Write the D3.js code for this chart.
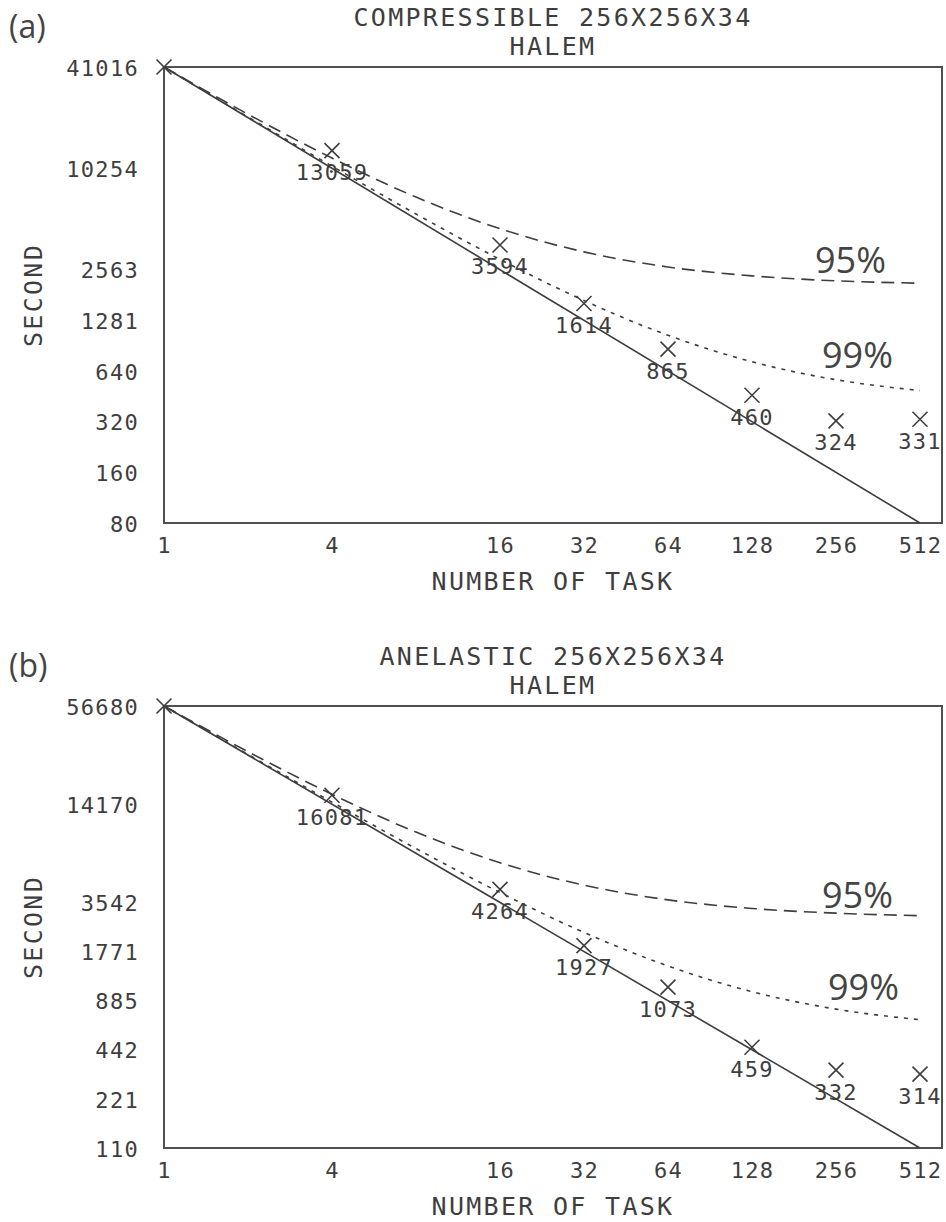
<!DOCTYPE html>
<html>
<head>
<meta charset="utf-8">
<script src="https://cdn.jsdelivr.net/npm/d3@7"></script>
<style>
  body { margin: 0; background: #fff; }
  svg { display: block; }
</style>
</head>
<body>
<svg id="chart"></svg>
<script>

/* data */
var tasks = [1, 4, 16, 32, 64, 128, 256, 512];
var timesA = [41016, 13059, 3594, 1614, 865, 460, 324, 331];
var timesB = [56680, 16081, 4264, 1927, 1073, 459, 332, 314];

// efficiency curves (95% / 99%), sampled at every power of two
var curveTasks = [1, 2, 4, 8, 16, 32, 64, 128, 256, 512];
var eff95A = [41016, 21500, 11800, 6920, 4490, 3270, 2660, 2355, 2200, 2130];
var eff99A = [41016, 20700, 10560, 5490, 2950, 1680, 1045, 727, 569, 490];
var eff95B = [56680, 29750, 16300, 9560, 6200, 4520, 3675, 3255, 3045, 2940];
var eff99B = [56680, 28620, 14600, 7580, 4075, 2320, 1445, 1005, 786, 676];

// ideal speedup line
var idealTasks = [1, 512];
var idealA = [41016, 80.1];
var idealB = [56680, 110.7];

var xTicks = [1, 4, 16, 32, 64, 128, 256, 512];
var yTicksA = [41016, 10254, 2563, 1281, 640, 320, 160, 80];
var yTicksB = [56680, 14170, 3542, 1771, 885, 442, 221, 110];

/* settings */
var width = 946,
    height = 1222,
    left = 164,
    right = 942,
    xMax = 614,          // axis runs a little past 512
    ink = "#3e3e3e",
    mono = "'DejaVu Sans Mono', monospace",
    sans = "'Open Sans', 'Noto Sans', sans-serif";

var svg = d3.select("#chart")
    .attr("width", width)
    .attr("height", height);

svg.append("rect")
    .attr("width", width)
    .attr("height", height)
    .attr("fill", "#fff");

var xScale = d3.scaleLog().base(2)
    .domain([1, xMax])
    .range([left, right]);

function drawPanel(p) {

    var yScale = d3.scaleLog().base(2)
        .domain([p.ideal[1], p.ideal[0]])
        .range([p.bottom, p.top]);

    var g = svg.append("g").attr("class", "panel");

    /* frame */
    g.append("rect")
        .attr("x", xScale(1))
        .attr("y", yScale(p.ideal[0]))
        .attr("width", xScale(xMax) - xScale(1))
        .attr("height", yScale(p.ideal[1]) - yScale(p.ideal[0]))
        .attr("fill", "none")
        .attr("stroke", "#505050")
        .attr("stroke-width", 2);

    /* axes, labels only */
    var xAxisG = g.append("g")
        .attr("transform", "translate(0," + (p.bottom + 22) + ")")
        .call(d3.axisBottom(xScale).tickValues(xTicks).tickSize(0).tickPadding(0)
            .tickFormat(d3.format("d")));
    var yAxisG = g.append("g")
        .attr("transform", "translate(" + left + ",0)")
        .call(d3.axisLeft(yScale).tickValues(p.yTicks).tickSize(0).tickPadding(25)
            .tickFormat(d3.format("d")));

    [xAxisG, yAxisG].forEach(function(a) {
        a.select(".domain").remove();
        a.attr("font-family", mono)
            .attr("font-size", 22)
            .style("color", ink);
        a.selectAll("text")
            .attr("dy", "0.365em")
            .style("letter-spacing", "1.3px");
    });

    var line = d3.line()
        .x(function(d) { return xScale(d[0]); })
        .y(function(d) { return yScale(d[1]); });

    /* ideal line */
    g.append("path")
        .datum(d3.zip(idealTasks, p.ideal))
        .attr("d", line)
        .attr("fill", "none")
        .attr("stroke", ink)
        .attr("stroke-width", 1.6);

    /* 95% and 99% curves */
    var smooth = d3.line()
        .x(function(d) { return xScale(d[0]); })
        .y(function(d) { return yScale(d[1]); })
        .curve(d3.curveMonotoneX);

    g.append("path")
        .datum(d3.zip(curveTasks, p.e95))
        .attr("d", smooth)
        .attr("fill", "none")
        .attr("stroke", ink)
        .attr("stroke-width", 1.6)
        .attr("stroke-dasharray", "13,7");

    g.append("path")
        .datum(d3.zip(curveTasks, p.e99))
        .attr("d", smooth)
        .attr("fill", "none")
        .attr("stroke", ink)
        .attr("stroke-width", 1.6)
        .attr("stroke-dasharray", "4,6");

    /* measured points */
    var pts = d3.zip(tasks, p.times);

    g.selectAll(".mark")
        .data(pts)
        .enter()
        .append("path")
        .attr("class", "mark")
        .attr("transform", function(d) {
            return "translate(" + xScale(d[0]) + "," + yScale(d[1]) + ")";
        })
        .attr("d", "M-7.5,-7.5L7.5,7.5M-7.5,7.5L7.5,-7.5")
        .attr("fill", "none")
        .attr("stroke", ink)
        .attr("stroke-width", 1.6);

    g.selectAll(".ptlabel")
        .data(pts.slice(1))
        .enter()
        .append("text")
        .attr("class", "ptlabel")
        .attr("x", function(d) { return xScale(d[0]); })
        .attr("y", function(d) { return yScale(d[1]) + 29.5; })
        .attr("text-anchor", "middle")
        .attr("font-family", mono)
        .attr("font-size", 22)
        .style("letter-spacing", "1.3px")
        .attr("fill", ink)
        .text(function(d) { return d[1]; });

    /* titles */
    var cx = (xScale(1) + xScale(xMax)) / 2;
    [[p.title, p.top - 41], ["HALEM", p.top - 12]].forEach(function(t) {
        g.append("text")
            .attr("x", cx)
            .attr("y", t[1])
            .attr("text-anchor", "middle")
            .attr("font-family", mono)
            .attr("font-size", 25)
            .style("letter-spacing", "2.3px")
            .attr("fill", ink)
            .text(t[0]);
    });

    g.append("text")
        .attr("x", cx)
        .attr("y", p.bottom + 67)
        .attr("text-anchor", "middle")
        .attr("font-family", mono)
        .attr("font-size", 25)
        .style("letter-spacing", "2.3px")
        .attr("fill", ink)
        .text("NUMBER OF TASK");

    g.append("text")
        .attr("transform", "translate(42," + (p.top + p.bottom) / 2 + ") rotate(-90)")
        .attr("text-anchor", "middle")
        .attr("font-family", mono)
        .attr("font-size", 25)
        .style("letter-spacing", "2.3px")
        .attr("fill", ink)
        .text("SECOND");

    /* panel tag and percent labels */
    g.append("text")
        .attr("x", 9)
        .attr("y", p.top - 29)
        .attr("font-family", sans)
        .attr("font-size", 32)
        .attr("fill", "#444")
        .text(p.tag);

    p.pct.forEach(function(c) {
        g.append("text")
            .attr("x", c[0])
            .attr("y", c[1])
            .attr("font-family", sans)
            .attr("font-size", 36)
            .attr("fill", "#444")
            .text(c[2]);
    });
}

drawPanel({
    tag: "(a)",
    title: "COMPRESSIBLE 256X256X34",
    top: 67, bottom: 523,
    times: timesA, ideal: idealA, e95: eff95A, e99: eff99A,
    yTicks: yTicksA,
    pct: [[815, 273, "95%"], [822, 368, "99%"]]
});

drawPanel({
    tag: "(b)",
    title: "ANELASTIC 256X256X34",
    top: 706, bottom: 1148,
    times: timesB, ideal: idealB, e95: eff95B, e99: eff99B,
    yTicks: yTicksB,
    pct: [[822, 908, "95%"], [828, 1000, "99%"]]
});

</script>
</body>
</html>
